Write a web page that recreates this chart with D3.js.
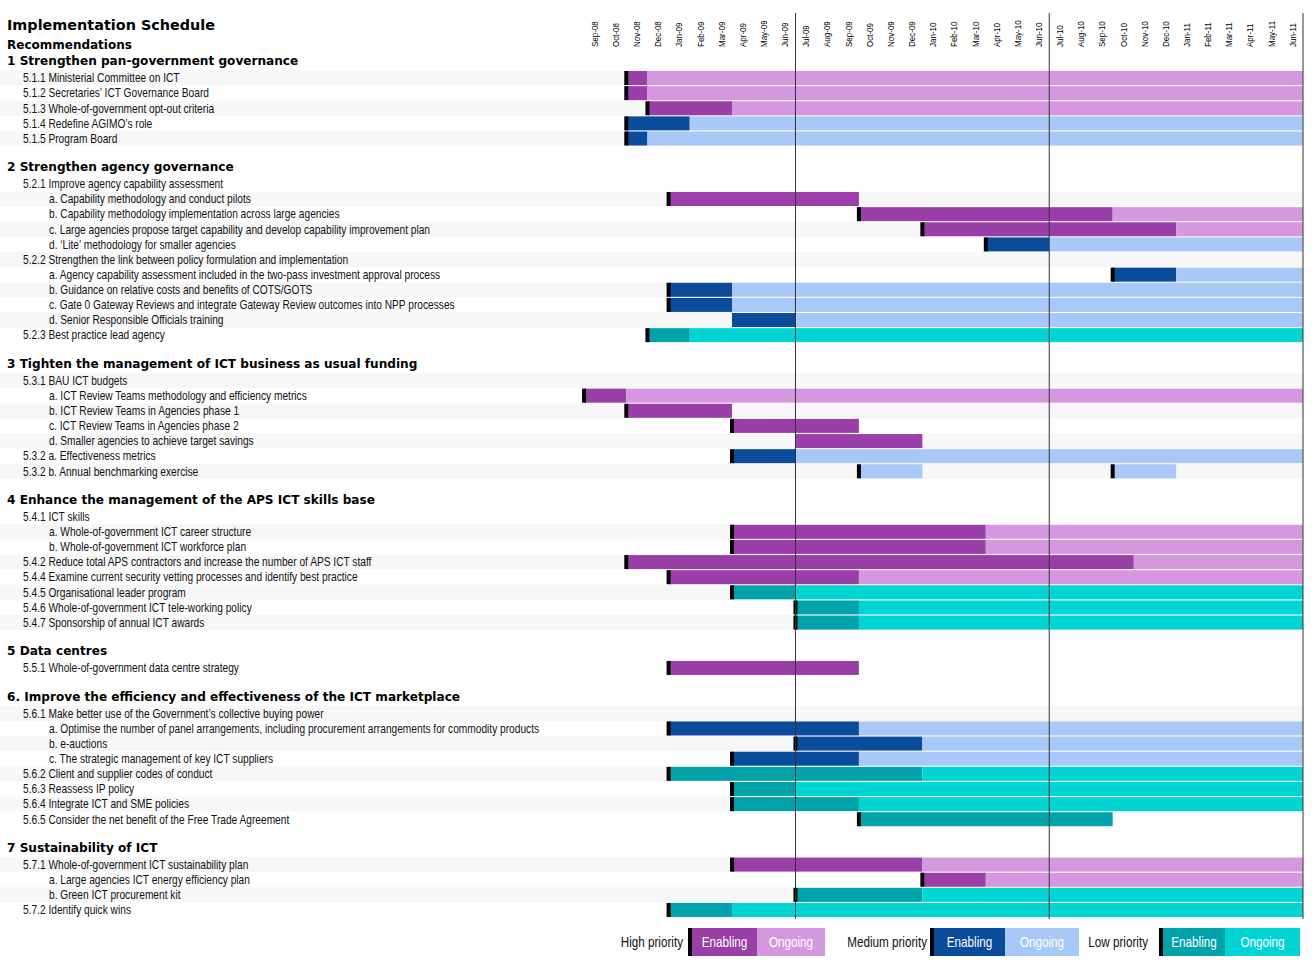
<!DOCTYPE html>
<html><head><meta charset="utf-8">
<script src="https://cdn.jsdelivr.net/npm/d3@7/dist/d3.min.js"></script>
<style>
html,body{margin:0;padding:0;background:#fff;}
svg{display:block;}
.hd{font-family:"DejaVu Sans",sans-serif;font-weight:bold;fill:#000;}
.it{font-family:"Liberation Sans","Arial",sans-serif;fill:#111;}
</style></head>
<body>
<svg id="c" width="1316" height="970"></svg>
<script>
// ---------- DATA ----------
const months = ["Sep-08","Oct-08","Nov-08","Dec-08","Jan-09","Feb-09","Mar-09","Apr-09","May-09","Jun-09",
  "Jul-09","Aug-09","Sep-09","Oct-09","Nov-09","Dec-09","Jan-10","Feb-10","Mar-10","Apr-10","May-10","Jun-10",
  "Jul-10","Aug-10","Sep-10","Oct-10","Nov-10","Dec-10","Jan-11","Feb-11","Mar-11","Apr-11","May-11","Jun-11"];
const financialYearStarts = ["Jul-09","Jul-10"];

const sectionTitles = [
  "1 Strengthen pan-government governance",
  "2 Strengthen agency governance",
  "3 Tighten the management of ICT business as usual funding",
  "4 Enhance the management of the APS ICT skills base",
  "5 Data centres",
  "6. Improve the efficiency and effectiveness of the ICT marketplace",
  "7 Sustainability of ICT"
];

// [section, label, indent level, priority, spans]
// span: [first month, last enabling month (or null), last ongoing month (or null), start marker]
const tasks = [
  [0,"5.1.1 Ministerial Committee on ICT",0,"High",[["Nov-08","Nov-08","Jun-11",1]]],
  [0,"5.1.2 Secretaries’ ICT Governance Board",0,"High",[["Nov-08","Nov-08","Jun-11",1]]],
  [0,"5.1.3 Whole-of-government opt-out criteria",0,"High",[["Dec-08","Mar-09","Jun-11",1]]],
  [0,"5.1.4 Redefine AGIMO’s role",0,"Medium",[["Nov-08","Jan-09","Jun-11",1]]],
  [0,"5.1.5 Program Board",0,"Medium",[["Nov-08","Nov-08","Jun-11",1]]],
  [1,"5.2.1 Improve agency capability assessment",0,null,[]],
  [1,"a. Capability methodology and conduct pilots",1,"High",[["Jan-09","Sep-09",null,1]]],
  [1,"b. Capability methodology implementation across large agencies",1,"High",[["Oct-09","Sep-10","Jun-11",1]]],
  [1,"c. Large agencies propose target capability and develop capability improvement plan",1,"High",[["Jan-10","Dec-10","Jun-11",1]]],
  [1,"d. ‘Lite’ methodology for smaller agencies",1,"Medium",[["Apr-10","Jun-10","Jun-11",1]]],
  [1,"5.2.2 Strengthen the link between policy formulation and implementation",0,null,[]],
  [1,"a. Agency capability assessment included in the two-pass investment approval process",1,"Medium",[["Oct-10","Dec-10","Jun-11",1]]],
  [1,"b. Guidance on relative costs and benefits of COTS/GOTS",1,"Medium",[["Jan-09","Mar-09","Jun-11",1]]],
  [1,"c. Gate 0 Gateway Reviews and integrate Gateway Review outcomes into NPP processes",1,"Medium",[["Jan-09","Mar-09","Jun-11",1]]],
  [1,"d. Senior Responsible Officials training",1,"Medium",[["Apr-09","Jun-09","Jun-11",0]]],
  [1,"5.2.3 Best practice lead agency",0,"Low",[["Dec-08","Jan-09","Jun-11",1]]],
  [2,"5.3.1 BAU ICT budgets",0,null,[]],
  [2,"a. ICT Review Teams methodology and efficiency metrics",1,"High",[["Sep-08","Oct-08","Jun-11",1]]],
  [2,"b. ICT Review Teams in Agencies phase 1",1,"High",[["Nov-08","Mar-09",null,1]]],
  [2,"c. ICT Review Teams in Agencies phase 2",1,"High",[["Apr-09","Sep-09",null,1]]],
  [2,"d. Smaller agencies to achieve target savings",1,"High",[["Jul-09","Dec-09",null,0]]],
  [2,"5.3.2 a. Effectiveness metrics",0,"Medium",[["Apr-09","Jun-09","Jun-11",1]]],
  [2,"5.3.2 b. Annual benchmarking exercise",0,"Medium",[["Oct-09",null,"Dec-09",1],["Oct-10",null,"Dec-10",1]]],
  [3,"5.4.1 ICT skills",0,null,[]],
  [3,"a. Whole-of-government ICT career structure",1,"High",[["Apr-09","Mar-10","Jun-11",1]]],
  [3,"b. Whole-of-government ICT workforce plan",1,"High",[["Apr-09","Mar-10","Jun-11",1]]],
  [3,"5.4.2 Reduce total APS contractors and increase the number of APS ICT staff",0,"High",[["Nov-08","Oct-10","Jun-11",1]]],
  [3,"5.4.4 Examine current security vetting processes and identify best practice",0,"High",[["Jan-09","Sep-09","Jun-11",1]]],
  [3,"5.4.5 Organisational leader program",0,"Low",[["Apr-09","Jun-09","Jun-11",1]]],
  [3,"5.4.6 Whole-of-government ICT tele-working policy",0,"Low",[["Jul-09","Sep-09","Jun-11",1]]],
  [3,"5.4.7 Sponsorship of annual ICT awards",0,"Low",[["Jul-09","Sep-09","Jun-11",1]]],
  [4,"5.5.1 Whole-of-government data centre strategy",0,"High",[["Jan-09","Sep-09",null,1]]],
  [5,"5.6.1 Make better use of the Government’s collective buying power",0,null,[]],
  [5,"a. Optimise the number of panel arrangements, including procurement arrangements for commodity products",1,"Medium",[["Jan-09","Sep-09","Jun-11",1]]],
  [5,"b. e-auctions",1,"Medium",[["Jul-09","Dec-09","Jun-11",1]]],
  [5,"c. The strategic management of key ICT suppliers",1,"Medium",[["Apr-09","Sep-09","Jun-11",1]]],
  [5,"5.6.2 Client and supplier codes of conduct",0,"Low",[["Jan-09","Dec-09","Jun-11",1]]],
  [5,"5.6.3 Reassess IP policy",0,"Low",[["Apr-09","Jun-09","Jun-11",1]]],
  [5,"5.6.4 Integrate ICT and SME policies",0,"Low",[["Apr-09","Sep-09","Jun-11",1]]],
  [5,"5.6.5 Consider the net benefit of the Free Trade Agreement",0,"Low",[["Oct-09","Sep-10",null,1]]],
  [6,"5.7.1 Whole-of-government ICT sustainability plan",0,"High",[["Apr-09","Dec-09","Jun-11",1]]],
  [6,"a. Large agencies ICT energy efficiency plan",1,"High",[["Jan-10","Mar-10","Jun-11",1]]],
  [6,"b. Green ICT procurement kit",1,"Low",[["Jul-09","Dec-09","Jun-11",1]]],
  [6,"5.7.2 Identify quick wins",0,"Low",[["Jan-09","Mar-09","Jun-11",1]]]
];

const priorities = ["High","Medium","Low"];
const legendPriorityLabels = ["High priority","Medium priority","Low priority"];
const legendKinds = ["Enabling","Ongoing"];

// ---------- STYLE / LAYOUT ----------
const colors = {
  High:   {Enabling:"#9a3fa8", Ongoing:"#d598e0"},
  Medium: {Enabling:"#0a4b9b", Ongoing:"#a8c8f8"},
  Low:    {Enabling:"#00a3aa", Ongoing:"#00d5d3"}
};
const NARROW = 0.835;
const svg = d3.select("#c");
const x = d3.scaleBand().domain(months).range([584, 1303]).padding(0);
const bw = x.bandwidth();
const rowStep = 15.127, firstRowY = 78, barH = 14;

// build slots
const slots = [];
sectionTitles.forEach((t, si) => {
  if (si > 0) slots.push({type:"blank"});
  slots.push({type:"section", label:t});
  tasks.filter(d => d[0] === si).forEach(d => slots.push({type:"task", label:d[1], indent:d[2], pri:d[3], spans:d[4]}));
});
const y = d3.scaleLinear().domain([1, 2]).range([firstRowY, firstRowY + rowStep]);
slots.forEach((s, i) => s.y = y(i));

// stripes
svg.append("g").selectAll("rect").data(slots.filter((s, i) => s.type === "task" && i % 2 === 1))
  .join("rect").attr("x", 0).attr("width", 1303).attr("y", d => d.y - rowStep/2).attr("height", rowStep)
  .attr("fill", "#f7f7f7");

// bars
const segs = [], markers = [];
slots.filter(s => s.type === "task" && s.pri).forEach(s => {
  s.spans.forEach(([start, enLast, onLast, mk]) => {
    if (enLast) segs.push({y:s.y, x0:x(start), x1:x(enLast)+bw, c:colors[s.pri].Enabling});
    if (onLast) {
      const os = enLast ? months[months.indexOf(enLast)+1] : start;
      segs.push({y:s.y, x0:x(os), x1:x(onLast)+bw, c:colors[s.pri].Ongoing});
    }
    if (mk) markers.push({y:s.y, x:x(start)});
  });
});
svg.append("g").selectAll("rect").data(segs).join("rect")
  .attr("x", d => d.x0).attr("width", d => d.x1 - d.x0)
  .attr("y", d => d.y - barH/2).attr("height", barH).attr("fill", d => d.c);
svg.append("g").selectAll("rect").data(markers).join("rect")
  .attr("x", d => d.x - 2).attr("width", 4)
  .attr("y", d => d.y - barH/2).attr("height", barH).attr("fill", "#000");

// vertical lines
const lastY = slots[slots.length-1].y + barH/2 + 2;
svg.append("g").selectAll("line").data(financialYearStarts.map(m => x(m)).concat([x.range()[1]]))
  .join("line").attr("x1", d => d).attr("x2", d => d).attr("y1", 13).attr("y2", lastY)
  .attr("stroke", "#333").attr("stroke-width", 1);

// month labels
svg.append("g").selectAll("text").data(months).join("text")
  .attr("class", "it").attr("font-size", 9.6).style("fill", "#000")
  .attr("transform", d => `translate(${x(d) + bw/2 + 3.3},47) rotate(-90) scale(${NARROW},1)`)
  .text(d => d);

// titles
svg.append("text").attr("class","hd").attr("x",7).attr("y",30).attr("font-size",14.4).text("Implementation Schedule");
svg.append("text").attr("class","hd").attr("x",7).attr("y",48.5).attr("font-size",12).text("Recommendations");

// row labels
const lab = svg.append("g");
lab.selectAll("text.hd").data(slots.filter(s => s.type === "section")).join("text")
  .attr("class", "hd").attr("font-size", 12.1)
  .attr("x", 7).attr("y", d => d.y + 2.5).text(d => d.label);
lab.selectAll("text.it").data(slots.filter(s => s.type === "task")).join("text")
  .attr("class", "it").attr("font-size", 12.2)
  .attr("transform", d => `translate(${d.indent ? 49 : 23},${d.y + 4.3}) scale(${NARROW},1)`)
  .text(d => d.label);

// legend
const legendTextEnd = [683, 927, 1148];
const legendMarkX = [688, 930, 1159];
const legendW = [[65, 68], [71, 74], [62, 75]];
const lg = svg.append("g");
priorities.forEach((p, i) => {
  lg.append("text").attr("class","it").attr("font-size",14).attr("text-anchor","end")
    .attr("transform", `translate(${legendTextEnd[i]},947) scale(${NARROW},1)`).text(legendPriorityLabels[i]);
  let cx = legendMarkX[i] + 4;
  legendKinds.forEach((k, j) => {
    lg.append("rect").attr("x", cx).attr("y", 928).attr("width", legendW[i][j]).attr("height", 28).attr("fill", colors[p][k]);
    lg.append("text").attr("class","it").attr("font-size",14).attr("text-anchor","middle")
      .attr("transform", `translate(${cx + legendW[i][j]/2},947) scale(${NARROW},1)`)
      .style("fill","#fff").text(k);
    cx += legendW[i][j];
  });
  lg.append("rect").attr("x", legendMarkX[i]).attr("y", 928).attr("width", 4).attr("height", 28).attr("fill", "#000");
});
</script>
</body></html>
